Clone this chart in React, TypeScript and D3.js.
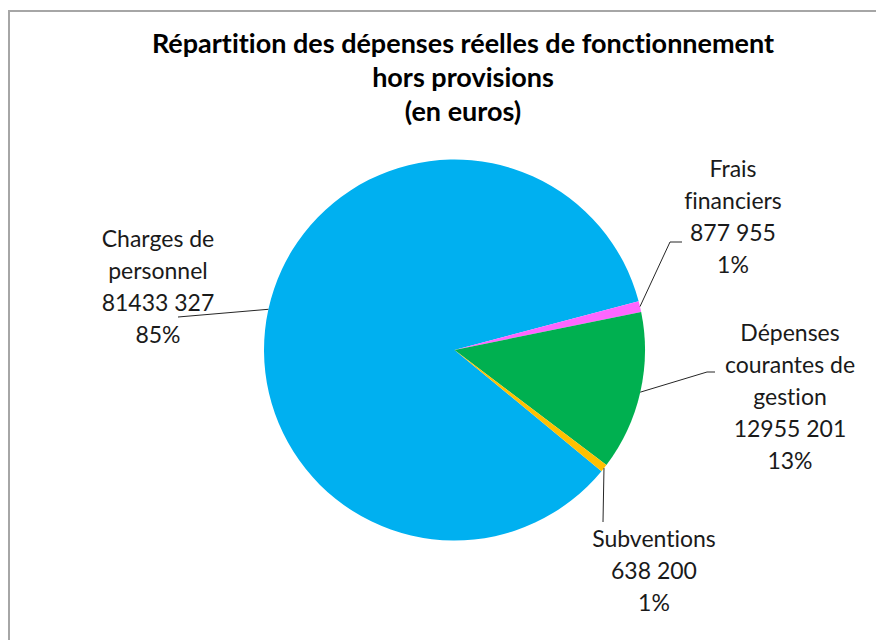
import { useRef, useEffect } from "react";
import * as d3 from "d3";

const categories = ["Charges de personnel", "Frais financiers", "Dépenses courantes de gestion", "Subventions"];
const labelLines = [["Charges de", "personnel"], ["Frais", "financiers"], ["Dépenses", "courantes de", "gestion"], ["Subventions"]];
const values = [81433327, 877955, 12955201, 638200];
const percents = [85, 1, 13, 1];
const colors = ["#00B0F0", "#FF66FF", "#00B050", "#FFC000"];
const titleLines = ["Répartition des dépenses réelles de fonctionnement", "hors provisions", "(en euros)"];

const width = 876;
const height = 640;
const cx = 454.5;
const cy = 350;
const radius = 190.5;
const startDeg = 129.5;
const lineH = 32;

// label placement: text centre x, first baseline y, leader elbow points
const labelPos = [
  { x: 158, y: 247, path: [[178, 317]] },
  { x: 733, y: 177, path: [[670, 242], [682, 242]] },
  { x: 790, y: 341, path: [[707, 372], [715, 372]] },
  { x: 654, y: 547, path: [[603, 522]] },
];

const fmt = (v: number) => {
  const s = String(v);
  return s.slice(0, -3) + " " + s.slice(-3);
};

const App = () => {
  const svgRef = useRef<SVGSVGElement>(null);

  useEffect(() => {
    const svg = d3.select(svgRef.current);
    svg.selectAll("*").remove();

    svg
      .append("rect")
      .attr("x", 9)
      .attr("y", 11)
      .attr("width", 1000)
      .attr("height", 1000)
      .attr("fill", "#fff")
      .attr("stroke", "#A6A6A6")
      .attr("stroke-width", 2);

    svg
      .append("g")
      .selectAll("text")
      .data(titleLines)
      .enter()
      .append("text")
      .attr("x", 463)
      .attr("y", (d, i) => 53 + i * 34)
      .attr("text-anchor", "middle")
      .attr("font-family", "Lato, sans-serif")
      .attr("font-weight", "bold")
      .attr("font-size", 27)
      .style("font-variant-ligatures", "none")
      .attr("fill", "#000")
      .text((d) => d);

    const start = (startDeg * Math.PI) / 180;
    const pie = d3
      .pie<number>()
      .sort(null)
      .startAngle(start)
      .endAngle(start + 2 * Math.PI)
      .value((d) => d);
    const arcs = pie(values);
    const arc = d3.arc<d3.PieArcDatum<number>>().innerRadius(0).outerRadius(radius);

    const g = svg.append("g").attr("transform", `translate(${cx},${cy})`);
    g.selectAll("path")
      .data(arcs)
      .enter()
      .append("path")
      .attr("d", arc)
      .attr("fill", (d, i) => colors[i]);

    const line = d3.line();
    arcs.forEach((a, i) => {
      const mid = (a.startAngle + a.endAngle) / 2;
      const p0: [number, number] = [cx + radius * Math.sin(mid), cy - radius * Math.cos(mid)];
      const pts = [p0, ...(labelPos[i].path as [number, number][])];
      svg
        .append("path")
        .attr("d", line(pts))
        .attr("fill", "none")
        .attr("stroke", "#262626")
        .attr("stroke-width", 1);

      const lines = [...labelLines[i], fmt(values[i]), `${percents[i]}%`];
      svg
        .append("g")
        .selectAll("text")
        .data(lines)
        .enter()
        .append("text")
        .attr("x", labelPos[i].x)
        .attr("y", (d, j) => labelPos[i].y + j * lineH)
        .attr("text-anchor", "middle")
        .attr("font-family", "Lato, sans-serif")
        .attr("font-size", 23)
        .style("font-variant-ligatures", "none")
        .attr("fill", "#1a1a1a")
        .text((d) => d);
    });
  }, []);

  return (
    <svg
      ref={svgRef}
      width={width}
      height={height}
      style={{ position: "absolute", left: 0, top: 0 }}
      aria-label={categories.join(", ")}
    ></svg>
  );
};

export default App;
